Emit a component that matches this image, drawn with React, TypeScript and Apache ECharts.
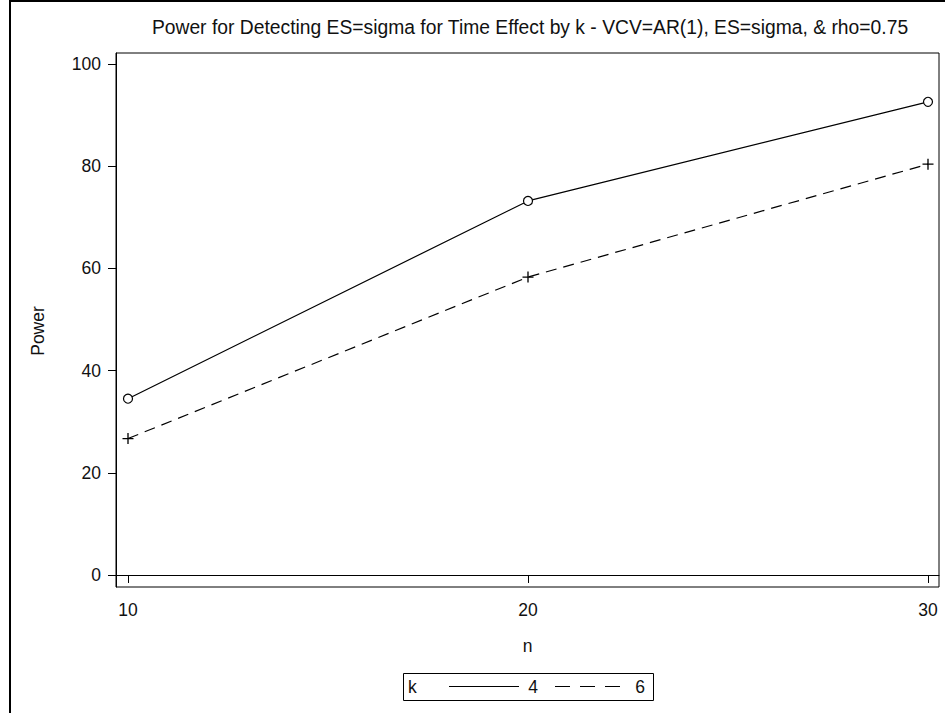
import React, { useEffect, useRef } from "react";
import * as echarts from "echarts";

// Sample sizes (n) and power (%) for each number of time points k
const nValues = [10, 20, 30];
const powerK4 = [34.5, 73.2, 92.6];
const powerK6 = [26.7, 58.3, 80.4];
const yTicks = [0, 20, 40, 60, 80, 100];
const xTicks = [10, 20, 30];
const seriesNames = ["4", "6"];

const FONT = "'Liberation Sans', Arial, sans-serif";
const TXT = "#111";
const LABEL_SIZE = 17.5;

const plusSymbol =
  "path://M-0.6,-5 L0.6,-5 L0.6,-0.6 L5,-0.6 L5,0.6 L0.6,0.6 L0.6,5 L-0.6,5 L-0.6,0.6 L-5,0.6 L-5,-0.6 L-0.6,-0.6 Z";

export default function App() {
  const ref = useRef<HTMLDivElement>(null);

  useEffect(() => {
    if (!ref.current) return;
    const chart = echarts.init(ref.current, undefined, { renderer: "svg" });

    const legendY = 686.5;
    const legendText = (text: string, x: number, align: string) => ({
      type: "text",
      x,
      y: legendY,
      style: {
        text,
        fontFamily: FONT,
        fontSize: LABEL_SIZE,
        fill: TXT,
        align,
        verticalAlign: "middle",
      },
    });

    chart.setOption({
      animation: false,
      backgroundColor: "#fff",
      textStyle: { fontFamily: FONT, color: TXT },
      title: {
        text: "Power for Detecting ES=sigma for Time Effect by k - VCV=AR(1), ES=sigma, & rho=0.75",
        left: 525,
        top: 13,
        textAlign: "center",
        textStyle: { fontFamily: FONT, fontSize: 19.3, fontWeight: "normal", color: TXT },
      },
      grid: {
        left: 116,
        top: 53,
        right: 6,
        bottom: 126,
        show: true,
        borderColor: "#000",
        borderWidth: 1,
        backgroundColor: "transparent",
      },
      xAxis: {
        type: "value",
        min: 9.7,
        max: 30.275,
        name: "n",
        nameLocation: "middle",
        nameGap: 50,
        nameTextStyle: { fontFamily: FONT, fontSize: LABEL_SIZE, color: TXT },
        axisLine: { show: true, lineStyle: { color: "#000", width: 1 } },
        axisTick: { show: true, length: 8, customValues: xTicks, lineStyle: { color: "#000" } },
        axisLabel: {
          customValues: xTicks,
          margin: 14,
          fontFamily: FONT,
          fontSize: LABEL_SIZE,
          color: TXT,
        },
        splitLine: { show: false },
      },
      yAxis: {
        type: "value",
        min: -2.35,
        max: 102.15,
        axisLine: { show: true, lineStyle: { color: "#000", width: 1 } },
        axisTick: { show: true, length: 8, customValues: yTicks, lineStyle: { color: "#000" } },
        axisLabel: {
          customValues: yTicks,
          margin: 15,
          fontFamily: FONT,
          fontSize: LABEL_SIZE,
          color: TXT,
        },
        splitLine: { show: false },
      },
      series: [
        {
          name: seriesNames[0],
          type: "line",
          data: nValues.map((n, i) => [n, powerK4[i]]),
          symbol: "circle",
          symbolSize: 9,
          lineStyle: { color: "#000", width: 1.2 },
          itemStyle: { color: "#fff", borderColor: "#000", borderWidth: 1.2 },
        },
        {
          name: seriesNames[1],
          type: "line",
          data: nValues.map((n, i) => [n, powerK6[i]]),
          symbol: plusSymbol,
          symbolSize: 11,
          lineStyle: { color: "#000", width: 1.2, type: [11, 7] },
          itemStyle: { color: "#000" },
        },
      ],
      graphic: [
        // outer frame edges
        { type: "line", shape: { x1: 9, y1: 1, x2: 945, y2: 1 }, style: { stroke: "#000", lineWidth: 2 } },
        { type: "line", shape: { x1: 10, y1: 0, x2: 10, y2: 713 }, style: { stroke: "#000", lineWidth: 2 } },
        // y axis title
        {
          type: "text",
          x: 38,
          y: 331,
          rotation: Math.PI / 2,
          style: {
            text: "Power",
            fontFamily: FONT,
            fontSize: LABEL_SIZE,
            fill: TXT,
            align: "center",
            verticalAlign: "middle",
          },
        },
        // legend box
        {
          type: "rect",
          shape: { x: 403.5, y: 673.5, width: 250, height: 27 },
          style: { fill: "#fff", stroke: "#000", lineWidth: 1 },
        },
        legendText("k", 408, "left"),
        { type: "line", shape: { x1: 449, y1: legendY, x2: 519, y2: legendY }, style: { stroke: "#000", lineWidth: 1.2 } },
        legendText(seriesNames[0], 533, "center"),
        {
          type: "line",
          shape: { x1: 555, y1: legendY, x2: 620, y2: legendY },
          style: { stroke: "#000", lineWidth: 1.2, lineDash: [15, 10] },
        },
        legendText(seriesNames[1], 640, "center"),
      ],
    });

    return () => chart.dispose();
  }, []);

  return (
    <div
      ref={ref}
      style={{ position: "fixed", left: 0, top: 0, width: 945, height: 713, background: "#fff" }}
    />
  );
}
